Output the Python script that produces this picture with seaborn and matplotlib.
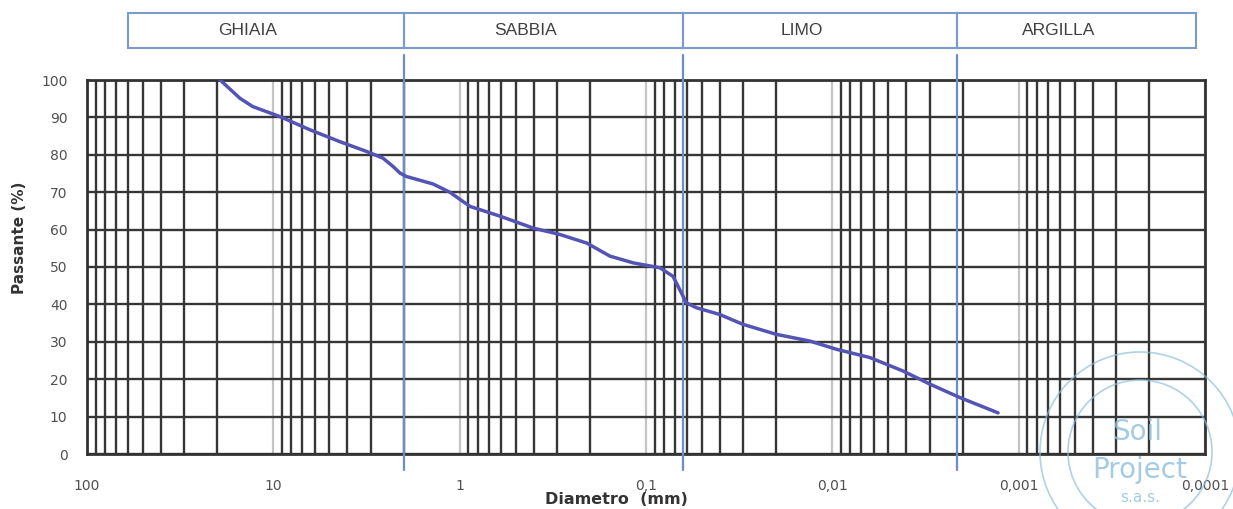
import numpy as np
import pandas as pd
import matplotlib
matplotlib.use("Agg")
import matplotlib.pyplot as plt
import seaborn as sns
from matplotlib.ticker import FixedLocator, NullFormatter, FixedFormatter
from matplotlib.patches import Rectangle, Ellipse
import matplotlib.transforms as mtransforms

# ---- data ----
diametro_mm = [19.3, 15.1, 12.9, 9.2, 6.37, 4.39, 3.16, 2.58, 2.28, 2.09, 1.93,
               1.39, 1.13, 0.88, 0.608, 0.403, 0.29, 0.208, 0.156, 0.117, 0.0843,
               0.0716, 0.066, 0.0607, 0.0536, 0.0402, 0.0303, 0.020, 0.0132,
               0.0095, 0.0063, 0.00418, 0.0030, 0.00207, 0.00129]
passante = [100, 95.1, 92.9, 90.2, 86.7, 83.5, 80.9, 79.1, 76.9, 75.1, 74.2,
            72.2, 70.0, 66.2, 63.6, 60.4, 58.7, 56.4, 52.9, 51.1, 49.8,
            47.5, 44.0, 40.4, 39.1, 37.3, 34.7, 32.0, 30.2,
            28.0, 25.8, 22.2, 18.7, 15.1, 11.0]

classi = ["GHIAIA", "SABBIA", "LIMO", "ARGILLA"]
limiti_classi = [60, 2, 0.063, 0.00215, 0.000112]   # header box edges (mm)
confini = [2, 0.063, 0.00215]                        # blue boundary lines (mm)

x_ticks = [100, 10, 1, 0.1, 0.01, 0.001, 0.0001]
x_tick_labels = ["100", "10", "1", "0,1", "0,01", "0,001", "0,0001"]
y_ticks = [0, 10, 20, 30, 40, 50, 60, 70, 80, 90, 100]

df = pd.DataFrame({"Diametro": diametro_mm, "Passante": passante})

# ---- figure ----
sns.set_style("white")
plt.rcParams["font.family"] = ["DejaVu Sans"]
W, H = 1233, 509
fig = plt.figure(figsize=(W / 100, H / 100), dpi=100)
ax_l, ax_r, ax_t, ax_b = 87, 1205, 80, 454
ax = fig.add_axes([ax_l / W, 1 - ax_b / H, (ax_r - ax_l) / W, (ax_b - ax_t) / H])

ax.set_xscale("log")
ax.set_xlim(100, 0.0001)
ax.set_ylim(0, 100)

# grid: decades light grey, intermediate lines dark
minor = [m * 10.0 ** e for e in range(-4, 2) for m in range(2, 10)]
ax.xaxis.set_major_locator(FixedLocator(x_ticks))
ax.xaxis.set_major_formatter(FixedFormatter(x_tick_labels))
ax.xaxis.set_minor_locator(FixedLocator(minor))
ax.xaxis.set_minor_formatter(NullFormatter())
ax.yaxis.set_major_locator(FixedLocator(y_ticks))

ax.grid(True, which="minor", axis="x", color="#363636", lw=1.7, zorder=1)
ax.grid(True, which="major", axis="x", color="#c4c4c4", lw=1.6, zorder=1)
ax.grid(True, which="major", axis="y", color="#363636", lw=1.7, zorder=1)
ax.set_axisbelow(True)

for s in ax.spines.values():
    s.set_color("#333333")
    s.set_linewidth(2)

ax.tick_params(axis="both", which="both", length=0, labelsize=10, labelcolor="#505050")
ax.tick_params(axis="x", pad=18)
ax.tick_params(axis="y", pad=14)

# class boundaries (blue)
trans = mtransforms.blended_transform_factory(ax.transData, ax.transAxes)
for c in confini:
    ax.plot([c, c], [-0.043, 1.067], transform=trans, color="#6b8ec6", lw=1.6,
            clip_on=False, zorder=3)

# header boxes
y0 = (ax_b - 48) / (ax_b - ax_t)
y1 = (ax_b - 13) / (ax_b - ax_t)
for i, nome in enumerate(classi):
    a, b = limiti_classi[i], limiti_classi[i + 1]
    ax.add_patch(Rectangle((a, y0), b - a, y1 - y0, transform=trans, fill=False,
                           edgecolor="#7b9bcc", lw=1.5, clip_on=False))
    xc = 10 ** ((np.log10(a) + np.log10(b)) / 2)
    ax.text(xc * 1.25, (y0 + y1) / 2, nome, transform=trans, ha="center", va="center",
            fontsize=12.5, color="#404040", family=["Liberation Sans", "DejaVu Sans"])

# curve
sns.lineplot(data=df, x="Diametro", y="Passante", ax=ax, color="#5454b4", lw=2.5,
             sort=False, zorder=4, legend=False)
ax.lines[-1].set_solid_joinstyle("round")
ax.set_xlabel("")
ax.set_ylabel("")

fig.text(20 / W, 1 - 238 / H, "Passante (%)", rotation=90, ha="center", va="center",
         fontsize=11, fontweight="bold", color="#333333")
fig.text(616 / W, 1 - 499 / H, "Diametro  (mm)", ha="center", va="center",
         fontsize=11.5, fontweight="bold", color="#333333")

# stamp (watermark)
cx, cy = 1140, 452
stamp = "#8dbfdc"
for r in (100, 72):
    fig.add_artist(Ellipse((cx / W, 1 - cy / H), 2 * r / W, 2 * r / H,
                           transform=fig.transFigure, fill=False, edgecolor=stamp,
                           lw=1.2, alpha=0.7, zorder=5))
fig.text(1137 / W, 1 - 432 / H, "Soil", ha="center", va="center", fontsize=20,
         color=stamp, alpha=0.8, zorder=6)
fig.text(1140 / W, 1 - 470 / H, "Project", ha="center", va="center", fontsize=20,
         color=stamp, alpha=0.8, zorder=6)
fig.text(1140 / W, 1 - 497 / H, "s.a.s.", ha="center", va="center", fontsize=11,
         color=stamp, alpha=0.8, zorder=6)

fig.savefig("out.png", dpi=100)
